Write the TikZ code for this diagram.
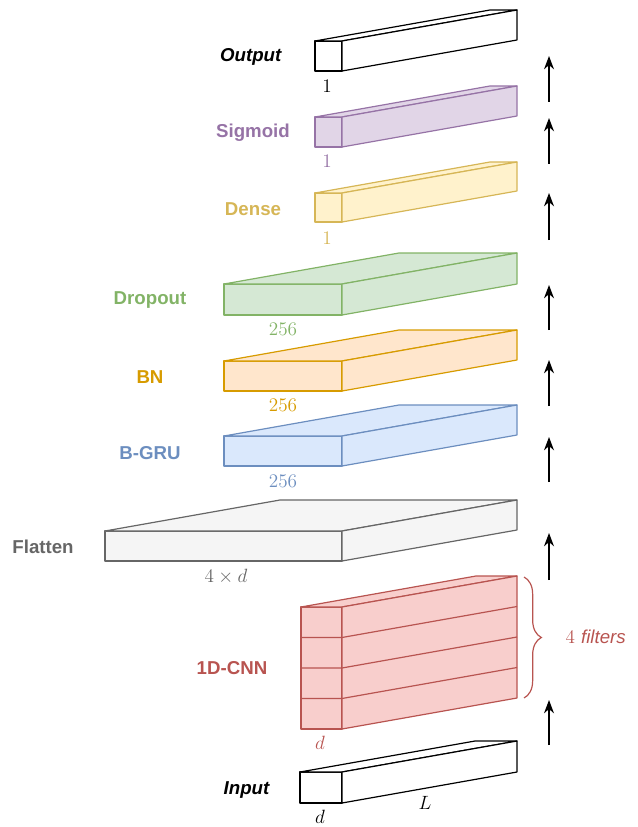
\documentclass[tikz,border=0pt]{standalone}
\usepackage{fontspec}
\setsansfont{Liberation Sans}
\usetikzlibrary{arrows.meta,decorations.pathreplacing}

\definecolor{purpleS}{HTML}{9673A6}\definecolor{purpleF}{HTML}{E1D5E7}
\definecolor{yellowS}{HTML}{D6B656}\definecolor{yellowF}{HTML}{FFF2CC}
\definecolor{greenS}{HTML}{82B366}\definecolor{greenF}{HTML}{D5E8D4}
\definecolor{orangeS}{HTML}{D79B00}\definecolor{orangeF}{HTML}{FFE6CC}
\definecolor{blueS}{HTML}{6C8EBF}\definecolor{blueF}{HTML}{DAE8FC}
\definecolor{grayS}{HTML}{666666}\definecolor{grayF}{HTML}{F5F5F5}
\definecolor{redS}{HTML}{B85450}\definecolor{redF}{HTML}{F8CECC}

\tikzset{
  box/.style={line width=0.9pt, line join=round},
  lbl/.style={font=\sffamily\bfseries\fontsize{14}{16}\selectfont},
  io/.style={font=\sffamily\bfseries\itshape\fontsize{14}{16}\selectfont},
  num/.style={font=\fontsize{15}{17}\selectfont},
  flow/.style={-{Stealth[length=10pt,width=7.5pt]}, line width=1pt}
}

% a layer drawn as a cuboid: left x, top y, height, style
\newcommand\layerbox[4]{%
  \filldraw[box,#4] (#1,#2) rectangle (342,#2+#3);
  \filldraw[box,#4] (#1,#2) -- (#1+175,#2-31) -- (517,#2-31) -- (342,#2) -- cycle;
  \filldraw[box,#4] (342,#2) -- (517,#2-31) -- (517,#2+#3-31) -- (342,#2+#3) -- cycle;
}

\begin{document}
\begin{tikzpicture}[x=0.75pt,y=-0.75pt]
\useasboundingbox (0,0) rectangle (637,827);

% layers, from the top
\layerbox{315}{41}{30}{draw=black,fill=white}
\layerbox{315}{117}{30}{draw=purpleS,fill=purpleF}
\layerbox{315}{193}{29}{draw=yellowS,fill=yellowF}
\layerbox{224}{284}{31}{draw=greenS,fill=greenF}
\layerbox{224}{361}{30}{draw=orangeS,fill=orangeF}
\layerbox{224}{436}{30}{draw=blueS,fill=blueF}
\layerbox{105}{531}{30}{draw=grayS,fill=grayF}
\layerbox{301}{607}{122}{draw=redS,fill=redF}
\foreach \k in {1,2,3}{
  \draw[box,redS] (301,607+30.5*\k) -- (342,607+30.5*\k) -- (517,576+30.5*\k);
}
\layerbox{300}{772}{31}{draw=black,fill=white}

% layer names
\node[io,anchor=east] (tOut) at (286,57) {Output};
\node[lbl,text=purpleS] (tSig) at (253,133) {Sigmoid};
\node[lbl,text=yellowS] (tDen) at (253,209) {Dense};
\node[lbl,text=greenS] (tDrop) at (150,300) {Dropout};
\node[lbl,text=orangeS] (tBN) at (150,377) {BN};
\node[lbl,text=blueS] (tGRU) at (150,453) {B-GRU};
\node[lbl,text=grayS] (tFlat) at (43,547) {Flatten};
\node[lbl,text=redS] (tCNN) at (232,668) {1D-CNN};
\node[io,anchor=east] (tIn) at (274,790) {Input};

% sizes
\node[num] (nOut) at (327,86) {$1$};
\node[num,text=purpleS] (nSig) at (327,161) {$1$};
\node[num,text=yellowS] (nDen) at (327,238) {$1$};
\node[num,text=greenS] (nDrop) at (283,329) {$256$};
\node[num,text=orangeS] (nBN) at (283,405) {$256$};
\node[num,text=blueS] (nGRU) at (283,481) {$256$};
\node[num,text=grayS] (nFlat) at (226,577) {$4\times d$};
\node[num,text=redS] (nCNN) at (320,743) {$d$};
\node[num] (nInD) at (320,817) {$d$};
\node[num] (nInL) at (425,803) {$L$};

% filters brace
\coordinate (bTop) at (524,577);
\coordinate (bBot) at (524,698);
\draw[redS,line width=0.9pt,decorate,decoration={brace,amplitude=13pt}] (bTop) -- (bBot);
\node[text=redS,anchor=west] (tFil) at (561,637)
  {\fontsize{15}{17}\selectfont$4$ \sffamily\itshape\fontsize{14}{16}\selectfont filters};

% data flow arrows
\foreach \a/\b [count=\i] in {102/56, 164/118, 240/193, 330/285, 406/360, 482/437, 580/533, 745/700}{
  \coordinate (s\i) at (549,\a);
  \coordinate (e\i) at (549,\b);
  \draw[flow] (s\i) -- (e\i);
}
\end{tikzpicture}
\end{document}
